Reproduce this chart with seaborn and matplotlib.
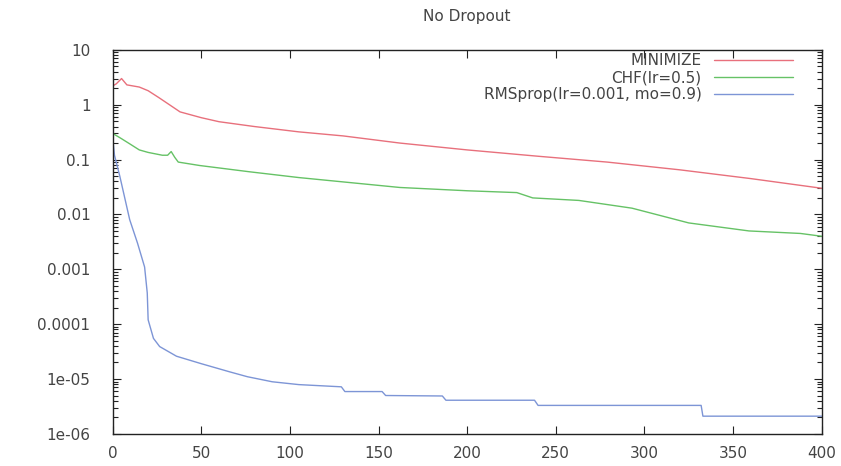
import numpy as np
import pandas as pd
import matplotlib
matplotlib.use('Agg')
import matplotlib.pyplot as plt
import seaborn as sns

# values
minimize_x = [0, 2, 5, 8, 15, 20, 26, 32, 38, 50, 60, 80, 105, 130, 162, 200, 240, 279, 320, 360, 400]
minimize_y = [2.2, 2.4, 3.0, 2.3, 2.1, 1.8, 1.35, 1.0, 0.74, 0.58, 0.49, 0.40, 0.32, 0.27,
              0.20, 0.15, 0.115, 0.09, 0.065, 0.045, 0.03]

chf_x = [0, 5, 10, 15, 20, 28, 31, 33, 35, 37, 49, 77, 105, 162, 200, 228, 237, 263,
         293, 325, 359, 388, 400]
chf_y = [0.30, 0.24, 0.19, 0.15, 0.135, 0.12, 0.12, 0.14, 0.11, 0.09, 0.078, 0.06, 0.047,
         0.031, 0.027, 0.025, 0.02, 0.018, 0.013, 0.007, 0.005, 0.0045, 0.004]

rms_x = [0, 1, 4, 9.6, 14, 18, 19.5, 20, 23, 26.5, 36, 50, 66, 76, 90, 105, 129, 131,
         152, 154, 186, 188, 238, 240, 332, 333, 400]
rms_y = [0.25, 0.12, 0.05, 0.008, 0.003, 0.0011, 3.7e-4, 1.2e-4, 5.5e-5, 3.9e-5, 2.6e-5,
         1.9e-5, 1.35e-5, 1.1e-5, 8.9e-6, 7.9e-6, 7.2e-6, 5.9e-6, 5.9e-6, 5e-6, 4.9e-6,
         4.1e-6, 4.1e-6, 3.3e-6, 3.3e-6, 2.1e-6, 2.1e-6]

labels = ['MINIMIZE', 'CHF(lr=0.5)', 'RMSprop(lr=0.001, mo=0.9)']
colors = ['#e8707c', '#66c266', '#7d95d6']

y_ticks = [10, 1, 0.1, 0.01, 0.001, 0.0001, 1e-05, 1e-06]
y_tick_labels = ['10', '1', '0.1', '0.01', '0.001', '0.0001', '1e-05', '1e-06']
x_ticks = [0, 50, 100, 150, 200, 250, 300, 350, 400]

df = pd.concat([
    pd.DataFrame({'epoch': minimize_x, 'loss': minimize_y, 'method': labels[0]}),
    pd.DataFrame({'epoch': chf_x, 'loss': chf_y, 'method': labels[1]}),
    pd.DataFrame({'epoch': rms_x, 'loss': rms_y, 'method': labels[2]}),
], ignore_index=True)

sns.set_style('ticks')
plt.rcParams['font.family'] = ['DejaVu Sans']

fig = plt.figure(figsize=(8.41, 4.66), dpi=100)
ax = fig.add_axes([0.134, 0.069, 0.843, 0.824])

sns.lineplot(data=df, x='epoch', y='loss', hue='method', palette=colors,
             estimator=None, sort=False, linewidth=1.0, ax=ax)

ax.set_yscale('log')
ax.set_xlim(0, 400)
ax.set_xticks(x_ticks)
ax.set_xticklabels([str(t) for t in x_ticks])
ax.set_yticks(y_ticks)
ax.set_yticklabels(y_tick_labels)
# gnuplot style minor ticks at 2..9 of every decade
minor = [m * 10.0 ** k for k in range(-6, 1) for m in range(2, 10)]
ax.set_yticks(minor, minor=True)
ax.set_yticklabels([], minor=True)
ax.set_ylim(1e-06, 10)
ax.set_xlabel('')
ax.set_ylabel('')
ax.set_title('No Dropout', fontsize=11, color='#444444', y=1.0, pad=21)

for s in ax.spines.values():
    s.set_visible(True)
    s.set_color('#222222')
    s.set_linewidth(1.0)

ax.tick_params(axis='both', which='both', direction='in', top=True, right=True,
               colors='#222222', labelcolor='#444444', labelsize=11)
ax.tick_params(axis='y', which='major', length=6, pad=16)
ax.tick_params(axis='y', which='minor', length=3.5, width=0.8, left=True, right=True)
ax.tick_params(axis='x', which='major', length=6, pad=9)

handles, _ = ax.get_legend_handles_labels()
ax.legend(handles, labels, loc='upper right', frameon=False, markerfirst=False,
          fontsize=11, handlelength=5.2, handletextpad=0.8, labelspacing=0.15,
          borderaxespad=0.3, bbox_to_anchor=(0.975, 1.02))
for t in ax.get_legend().get_texts():
    t.set_color('#444444')

fig.savefig('out.png', dpi=100)
